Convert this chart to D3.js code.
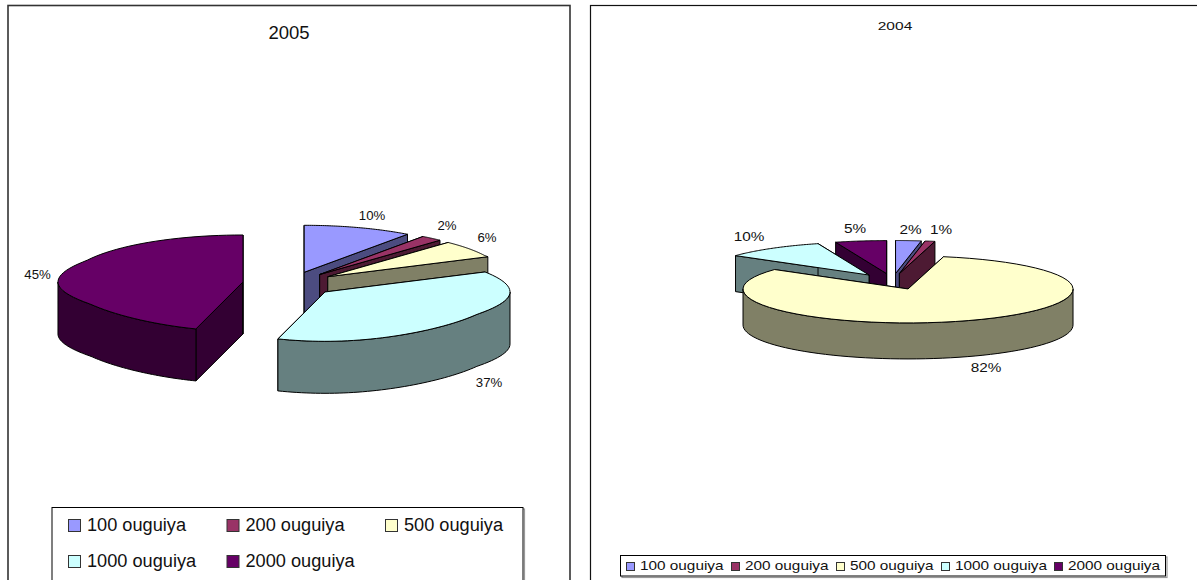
<!DOCTYPE html>
<html>
<head>
<meta charset="utf-8">
<script src="https://cdn.jsdelivr.net/npm/d3@7/dist/d3.min.js"></script>
<style>
  html, body { margin: 0; padding: 0; background: #fff; overflow: hidden; }
  svg { display: block; }
  text { font-family: "Liberation Sans", Arial, sans-serif; fill: #111; }
</style>
</head>
<body>
<svg id="chart" width="1197" height="580"></svg>
<script>
// Banknote denominations and their share of notes, per year
const denominations = ["100 ouguiya", "200 ouguiya", "500 ouguiya", "1000 ouguiya", "2000 ouguiya"];
const shares2005 = [10, 2, 6, 37, 45];
const shares2004 = [2, 1, 82, 10, 5];
const topColors = ["#9999ff", "#993366", "#ffffcc", "#ccffff", "#660066"];
const sideColors = ["#4c4c80", "#4d1a33", "#808066", "#668080", "#330033"];

const svg = d3.select("#chart");

// Panel geometry for the two exploded pies
const panel2005 = {
  title: "2005", shares: shares2005,
  frame: { x: 8, y: 5.5, w: 562, h: 590, stroke: "#333", width: 1.6 },
  titleX: 289, titleY: 39, titleSize: 18.5, titleStretch: 1,
  cx: 289.6, cy: 283.9, rx: 185, ry: 47, depth: 52, ex: 47.2, ey: 12.2,
  frontSqueeze: 0.14, backSqueeze: 0.05, frontDrop: 1.05, nudge: 0,
  labelSize: 12, labelStretch: 1.1,
  labels: [[372, 220], [447, 230], [487, 242], [489, 387], [37.5, 279]]
};
const panel2004 = {
  title: "2004", shares: shares2004,
  frame: { x: 590.5, y: 5.5, w: 620, h: 590, stroke: "#111", width: 1.2 },
  titleX: 895, titleY: 30, titleSize: 11.5, titleStretch: 1.35,
  cx: 893, cy: 281.5, rx: 165, ry: 33, depth: 36, ex: 40.8, ey: 8,
  frontSqueeze: 0, backSqueeze: 0, frontDrop: 1.03, nudge: 2 * Math.PI / 180,
  labelSize: 13, labelStretch: 1.18,
  labels: [[910.5, 234], [941, 234], [986, 372], [749, 241], [855, 233]]
};

// Horizontally stretched text, anchored at the given point
function stretched(g, x, y, size, sx, anchor, str) {
  return g.append("text")
    .attr("transform", `translate(${x},${y}) scale(${sx},1)`)
    .attr("text-anchor", anchor)
    .attr("font-size", size)
    .text(str);
}

// Legend box with its soft grey drop edge
function legendBox(g, x, y, w, h) {
  g.append("rect").attr("x", x + 1.5).attr("y", y + 1.5).attr("width", w).attr("height", h)
    .attr("fill", "none").attr("stroke", "#999").attr("stroke-width", 1.2);
  g.append("rect").attr("x", x).attr("y", y).attr("width", w).attr("height", h)
    .attr("fill", "#fff").attr("stroke", "#000");
}

function drawPanel(p) {
  const g = svg.append("g");
  g.append("rect")
    .attr("x", p.frame.x).attr("y", p.frame.y)
    .attr("width", p.frame.w).attr("height", p.frame.h)
    .attr("fill", "#fff").attr("stroke", p.frame.stroke).attr("stroke-width", p.frame.width);

  stretched(g, p.titleX, p.titleY, p.titleSize, p.titleStretch, "middle", p.title);

  // Cumulative layout in pie order, clockwise from twelve o'clock
  const arcs = d3.pie().sort(null)(p.shares);

  // Map a pie angle onto the tilted ellipse of radii rx, ry
  const rim = (angle, o) => {
    const deg = angle * 180 / Math.PI;
    const a = angle + p.nudge * Math.min(1, deg / 7) * Math.max(0, 1 - deg / 60);
    const c = Math.cos(a);
    const squeeze = 1 - p.backSqueeze * Math.min(1, Math.pow(2.2 * c, 2))
      - p.frontSqueeze * Math.pow(Math.max(0, -c), 2);
    return [o[0] + p.rx * Math.sin(a) * squeeze, o[1] - p.ry * c * (c < 0 ? p.frontDrop : 1)];
  };
  const line = d3.line();
  const sample = (a0, a1) => d3.range(0, 61).map(i => a0 + (a1 - a0) * i / 60);

  // Each slice is pushed out along its bisector; far slices paint first
  const slices = arcs.map((d, i) => {
    const mid = (d.startAngle + d.endAngle) / 2;
    return {
      i, a0: d.startAngle, a1: d.endAngle,
      o: [p.cx + p.ex * Math.sin(mid), p.cy - p.ey * Math.cos(mid)]
    };
  }).sort((a, b) => a.o[1] - b.o[1]);

  const down = pt => [pt[0], pt[1] + p.depth];

  slices.forEach(s => {
    const side = sideColors[s.i], top = topColors[s.i];
    const sg = g.append("g")
      .attr("stroke", "#000").attr("stroke-width", 1).attr("stroke-linejoin", "round");
    const wall = a => {
      const t = rim(a, s.o);
      sg.append("path")
        .attr("d", line([s.o, t, down(t), down(s.o)]) + "Z")
        .attr("fill", side);
    };
    wall(s.a0);
    wall(s.a1);

    // Outer rim is only seen along the front half of the ellipse
    const f0 = Math.max(s.a0, Math.PI / 2), f1 = Math.min(s.a1, Math.PI * 1.5);
    if (f1 > f0) {
      const upper = sample(f0, f1).map(a => rim(a, s.o));
      const lower = upper.map(down).reverse();
      sg.append("path")
        .attr("d", line(upper.concat(lower)) + "Z")
        .attr("fill", side);
    }

    const face = [s.o].concat(sample(s.a0, s.a1).map(a => rim(a, s.o)));
    sg.append("path")
      .attr("d", line(face) + "Z")
      .attr("fill", top);
  });

  // Percentage labels
  p.shares.forEach((v, i) => {
    stretched(g, p.labels[i][0], p.labels[i][1], p.labelSize, p.labelStretch, "middle", v + "%");
  });
}

drawPanel(panel2005);
drawPanel(panel2004);

// Two-row legend under the 2005 pie; its lower edge runs past the page
(function legend2005() {
  const g = svg.append("g");
  legendBox(g, 52, 507.5, 471, 90);
  const xs = [68, 226.5, 385], ys = [531, 567];
  denominations.forEach((name, i) => {
    const x = xs[i % 3], y = ys[Math.floor(i / 3)];
    g.append("rect").attr("x", x + 0.5).attr("y", y - 11.5).attr("width", 12).attr("height", 12)
      .attr("fill", topColors[i]).attr("stroke", "#333");
    stretched(g, x + 19, y, 18, 1.01, "start", name);
  });
})();

// Single-row legend under the 2004 pie
(function legend2004() {
  const g = svg.append("g");
  legendBox(g, 620.5, 555.5, 545, 20.5);
  const xs = [626, 731, 836, 941, 1054];
  denominations.forEach((name, i) => {
    g.append("rect").attr("x", xs[i] + 0.5).attr("y", 562.5).attr("width", 8).attr("height", 8)
      .attr("fill", topColors[i]).attr("stroke", "#333");
    stretched(g, xs[i] + 14, 570, 13, 1.18, "start", name);
  });
})();
</script>
</body>
</html>
